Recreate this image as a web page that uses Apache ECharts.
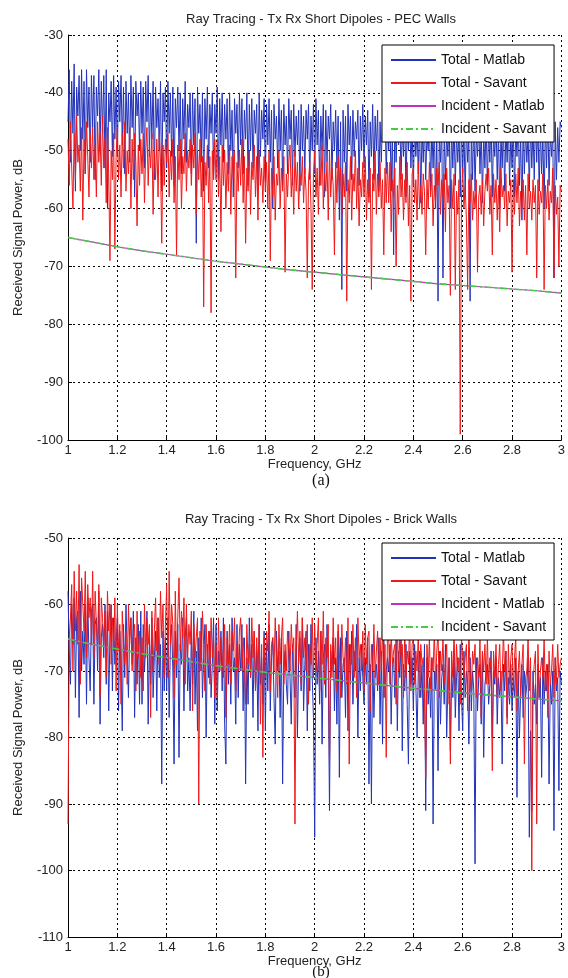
<!DOCTYPE html>
<html>
<head>
<meta charset="utf-8">
<title>Ray Tracing - Tx Rx Short Dipoles</title>
<script src="https://cdn.jsdelivr.net/npm/echarts/dist/echarts.min.js"></script>
<style>
  html, body { margin: 0; padding: 0; background: #fff; }
  #chart { width: 568px; height: 978px; }
</style>
</head>
<body>
<div id="chart"></div>
<script>
// frequency grid of the sampled traces (GHz)
const freqStart = 1
const freqStep = 0.005
const incStep = 0.1

const xTicks = [1, 1.2, 1.4, 1.6, 1.8, 2, 2.2, 2.4, 2.6, 2.8, 3]

// (a) PEC walls, dB -- one row per 0.1 GHz
const pecTotalMatlab = [
  -45, -36, -52, -38, -47, -35, -57, -39, -44, -37, -50, -36, -48, -38, -54, -36, -46, -39, -52, -37,
  -46, -37, -55, -39, -44, -36, -50, -38, -47, -37, -53, -36, -60, -40, -45, -38, -51, -37, -48, -39,
  -51, -38, -45, -37, -49, -39, -54, -38, -47, -40, -52, -37, -46, -39, -58, -38, -44, -40, -50, -38,
  -47, -39, -53, -38, -45, -37, -51, -40, -48, -38, -55, -39, -46, -41, -50, -38, -57, -40, -45, -39,
  -53, -38, -47, -40, -51, -39, -56, -41, -46, -39, -50, -40, -54, -41, -48, -38, -52, -42, -46, -40,
  -54, -40, -49, -41, -66, -39, -47, -42, -52, -40, -57, -41, -48, -39, -53, -42, -47, -40, -55, -42,
  -47, -39, -55, -41, -49, -40, -52, -42, -48, -41, -54, -40, -50, -43, -58, -41, -47, -42, -53, -40,
  -49, -41, -54, -43, -48, -40, -56, -42, -50, -41, -53, -43, -47, -42, -57, -40, -51, -43, -48, -41,
  -55, -42, -49, -41, -52, -43, -60, -42, -48, -44, -53, -41, -50, -43, -56, -42, -49, -44, -54, -41,
  -48, -43, -56, -42, -51, -44, -49, -43, -57, -42, -50, -44, -54, -43, -48, -42, -55, -44, -50, -42,
  -54, -41, -49, -43, -56, -44, -50, -42, -58, -43, -52, -44, -48, -42, -55, -45, -50, -43, -53, -44,
  -62, -45, -74, -43, -52, -44, -57, -42, -49, -44, -55, -43, -51, -45, -48, -43, -56, -44, -50, -42,
  -53, -44, -49, -43, -58, -45, -51, -42, -55, -44, -50, -43, -57, -45, -52, -44, -48, -43, -54, -45,
  -50, -44, -57, -46, -68, -43, -52, -45, -49, -44, -55, -46, -51, -43, -58, -45, -50, -44, -53, -46,
  -56, -45, -51, -46, -54, -44, -59, -46, -52, -45, -55, -47, -50, -44, -57, -46, -53, -45, -60, -46,
  -76, -47, -52, -45, -72, -46, -55, -47, -51, -44, -60, -46, -53, -45, -56, -47, -52, -46, -58, -45,
  -54, -46, -58, -45, -52, -47, -76, -46, -55, -44, -57, -47, -51, -45, -54, -46, -59, -47, -53, -45,
  -56, -46, -52, -44, -58, -47, -51, -45, -55, -46, -60, -47, -53, -45, -57, -46, -52, -44, -56, -47,
  -53, -45, -58, -46, -51, -44, -56, -47, -62, -45, -54, -46, -52, -47, -57, -45, -53, -46, -55, -44,
  -52, -45, -57, -46, -54, -47, -60, -45, -53, -44, -56, -47, -51, -46, -72, -45, -55, -46, -52, -45,
  -46
]
const pecTotalSavant = [
  -48, -56, -45, -53, -60, -47, -55, -44, -52, -49, -57, -46, -62, -48, -54, -45, -51, -58, -47, -53,
  -46, -55, -49, -58, -45, -52, -47, -56, -44, -53, -48, -59, -46, -54, -69, -50, -55, -47, -67, -51,
  -46, -55, -49, -58, -47, -53, -45, -57, -50, -54, -46, -60, -48, -55, -47, -52, -63, -49, -56, -48,
  -54, -47, -59, -50, -46, -56, -49, -53, -47, -61, -50, -55, -48, -58, -47, -52, -66, -49, -56, -48,
  -52, -47, -58, -50, -55, -48, -59, -51, -68, -49, -55, -48, -60, -51, -54, -47, -57, -50, -53, -48,
  -56, -49, -53, -47, -61, -50, -55, -48, -58, -51, -77, -52, -56, -49, -59, -51, -78, -50, -55, -48,
  -55, -48, -58, -51, -64, -49, -56, -50, -60, -52, -57, -49, -61, -51, -55, -50, -72, -52, -57, -50,
  -56, -48, -59, -51, -66, -53, -57, -50, -61, -52, -55, -49, -58, -51, -62, -50, -56, -53, -59, -51,
  -57, -52, -60, -50, -69, -53, -58, -51, -62, -54, -56, -50, -60, -53, -57, -51, -71, -54, -58, -52,
  -49, -58, -53, -61, -50, -57, -52, -60, -54, -56, -51, -59, -53, -57, -72, -55, -52, -60, -74, -54,
  -50, -58, -53, -61, -51, -56, -49, -60, -54, -57, -52, -62, -50, -58, -53, -56, -68, -52, -59, -51,
  -57, -53, -61, -54, -58, -52, -76, -55, -59, -51, -62, -54, -57, -50, -60, -53, -63, -55, -58, -52,
  -58, -51, -62, -55, -59, -53, -74, -54, -57, -50, -61, -54, -58, -52, -60, -55, -68, -53, -59, -52,
  -59, -52, -64, -55, -58, -53, -70, -56, -61, -51, -58, -54, -62, -55, -59, -52, -63, -56, -76, -54,
  -53, -59, -55, -62, -52, -60, -56, -61, -54, -57, -68, -55, -60, -52, -58, -54, -63, -56, -59, -53,
  -56, -52, -61, -55, -58, -54, -64, -53, -59, -56, -75, -55, -60, -54, -74, -57, -61, -55, -99, -58,
  -53, -60, -56, -62, -74, -55, -59, -54, -62, -57, -60, -55, -71, -58, -56, -61, -55, -63, -57, -54,
  -57, -53, -61, -56, -68, -54, -59, -55, -62, -56, -64, -53, -58, -56, -60, -54, -63, -57, -59, -55,
  -71, -55, -61, -54, -59, -53, -63, -57, -60, -55, -62, -56, -68, -54, -60, -57, -62, -55, -59, -56,
  -72, -55, -61, -57, -59, -54, -74, -56, -60, -55, -62, -57, -59, -53, -72, -56, -61, -58, -70, -56,
  -57
]
const pecIncMatlab = [-65.0, -65.8, -66.6, -67.3, -67.9, -68.5, -69.1, -69.6, -70.1, -70.6, -71.0,
  -71.4, -71.8, -72.2, -72.6, -73.0, -73.3, -73.6, -73.9, -74.2, -74.6]
const pecIncSavant = [-65.0, -65.8, -66.6, -67.3, -67.9, -68.5, -69.1, -69.6, -70.1, -70.6, -71.0,
  -71.4, -71.8, -72.2, -72.6, -73.0, -73.3, -73.6, -73.9, -74.2, -74.6]

// (b) brick walls, dB -- one row per 0.1 GHz
const brickTotalMatlab = [
  -58, -67, -72, -60, -66, -59, -74, -62, -61, -77, -58, -70, -64, -69, -60, -75, -59, -68, -73, -61,
  -60, -75, -63, -62, -70, -58, -78, -65, -63, -68, -60, -72, -61, -76, -64, -60, -73, -62, -69, -66,
  -62, -76, -64, -70, -79, -63, -71, -60, -67, -74, -64, -62, -69, -61, -77, -65, -72, -63, -75, -61,
  -75, -63, -70, -66, -61, -78, -65, -72, -62, -74, -68, -64, -76, -62, -71, -66, -87, -64, -73, -65,
  -73, -62, -77, -66, -63, -70, -84, -64, -71, -63, -83, -66, -69, -62, -76, -65, -62, -73, -68, -76,
  -64, -72, -61, -75, -67, -79, -65, -70, -62, -74, -68, -63, -80, -66, -71, -64, -74, -69, -62, -78,
  -63, -76, -67, -70, -64, -73, -62, -78, -84, -64, -72, -66, -75, -62, -70, -68, -78, -63, -74, -66,
  -70, -63, -76, -65, -87, -68, -75, -62, -71, -66, -77, -64, -73, -67, -79, -63, -72, -68, -75, -64,
  -79, -66, -73, -63, -76, -68, -65, -74, -81, -64, -70, -67, -77, -65, -87, -69, -67, -72, -75, -64,
  -64, -78, -66, -71, -74, -63, -80, -68, -65, -73, -62, -76, -69, -64, -79, -66, -73, -63, -71, -77,
  -95, -65, -72, -67, -75, -64, -81, -68, -66, -74, -63, -70, -91, -67, -70, -65, -76, -68, -78, -64,
  -86, -65, -74, -69, -68, -77, -64, -79, -66, -72, -64, -75, -67, -70, -63, -80, -68, -73, -66, -71,
  -75, -68, -72, -65, -87, -69, -90, -66, -77, -70, -69, -73, -65, -78, -67, -81, -65, -74, -70, -68,
  -70, -66, -78, -69, -68, -74, -65, -79, -67, -71, -65, -82, -69, -73, -66, -75, -84, -67, -72, -68,
  -76, -66, -72, -80, -70, -67, -74, -69, -78, -66, -91, -68, -75, -71, -77, -68, -93, -70, -73, -69,
  -85, -67, -78, -71, -69, -75, -66, -80, -72, -68, -82, -70, -74, -67, -77, -71, -68, -79, -66, -74,
  -79, -67, -74, -70, -72, -81, -68, -76, -70, -73, -99, -68, -76, -71, -69, -78, -67, -83, -72, -70,
  -69, -75, -72, -67, -80, -70, -72, -68, -78, -71, -74, -70, -84, -69, -73, -67, -77, -71, -75, -69,
  -76, -71, -74, -68, -89, -70, -80, -73, -69, -77, -70, -74, -72, -68, -95, -79, -91, -70, -75, -72,
  -78, -69, -74, -71, -86, -68, -75, -70, -73, -69, -87, -72, -75, -70, -94, -68, -73, -71, -88, -70,
  -72
]
const brickTotalSavant = [
  -93, -65, -62, -57, -70, -55, -64, -58, -66, -54, -72, -56, -60, -64, -55, -68, -57, -62, -59, -66,
  -55, -68, -58, -63, -66, -57, -74, -59, -62, -66, -61, -71, -58, -64, -60, -69, -62, -67, -59, -73,
  -60, -67, -63, -75, -61, -66, -69, -64, -72, -60, -66, -62, -70, -65, -63, -73, -61, -68, -64, -71,
  -65, -73, -60, -68, -62, -66, -63, -77, -61, -70, -64, -59, -67, -62, -69, -58, -65, -60, -71, -63,
  -57, -71, -55, -66, -60, -63, -74, -58, -69, -62, -56, -67, -61, -65, -59, -72, -60, -68, -63, -66,
  -61, -76, -63, -68, -65, -62, -90, -64, -70, -61, -66, -73, -63, -69, -64, -72, -62, -68, -65, -74,
  -66, -74, -62, -70, -65, -68, -71, -63, -77, -65, -69, -63, -72, -64, -67, -62, -73, -66, -70, -64,
  -62, -70, -65, -68, -75, -63, -69, -66, -71, -62, -68, -64, -73, -65, -70, -63, -78, -66, -83, -65,
  -71, -64, -67, -61, -73, -66, -65, -70, -62, -68, -74, -63, -69, -65, -62, -72, -66, -70, -64, -67,
  -70, -63, -67, -65, -93, -67, -61, -69, -64, -72, -62, -68, -65, -70, -63, -75, -66, -69, -62, -71,
  -63, -70, -66, -62, -73, -64, -69, -61, -72, -65, -68, -63, -84, -66, -71, -62, -69, -65, -73, -63,
  -67, -74, -63, -68, -70, -65, -72, -62, -84, -66, -69, -63, -71, -65, -74, -62, -68, -66, -70, -64,
  -73, -63, -69, -65, -64, -76, -66, -70, -63, -71, -67, -64, -72, -65, -70, -63, -74, -66, -83, -64,
  -65, -72, -64, -69, -67, -66, -75, -63, -70, -65, -68, -66, -74, -64, -71, -67, -69, -63, -73, -66,
  -65, -72, -67, -70, -64, -74, -66, -69, -68, -73, -86, -66, -71, -65, -73, -68, -70, -64, -72, -67,
  -64, -74, -67, -70, -65, -72, -69, -66, -75, -68, -84, -67, -71, -64, -73, -66, -70, -68, -75, -65,
  -65, -71, -68, -66, -76, -64, -70, -73, -67, -69, -66, -74, -68, -71, -65, -77, -67, -70, -66, -72,
  -65, -72, -68, -70, -85, -67, -71, -66, -74, -69, -66, -73, -71, -64, -70, -67, -78, -66, -72, -68,
  -66, -73, -68, -65, -76, -70, -67, -74, -69, -66, -84, -71, -70, -65, -73, -68, -100, -72, -69, -67,
  -93, -66, -74, -70, -68, -71, -65, -73, -69, -77, -67, -72, -70, -66, -74, -68, -72, -66, -71, -69,
  -68
]
const brickIncMatlab = [-65.2, -66.0, -66.7, -67.4, -68.0, -68.6, -69.2, -69.7, -70.2, -70.6, -71.0,
  -71.4, -71.8, -72.2, -72.6, -72.9, -73.3, -73.6, -73.9, -74.2, -74.5]
const brickIncSavant = [-65.2, -66.0, -66.7, -67.4, -68.0, -68.6, -69.2, -69.7, -70.2, -70.6, -71.0,
  -71.4, -71.8, -72.2, -72.6, -72.9, -73.3, -73.6, -73.9, -74.2, -74.5]

const legendNames = ['Total - Matlab', 'Total - Savant', 'Incident - Matlab', 'Incident - Savant']
const colors = ['#2233bb', '#f01818', '#c033c0', '#44cc44']

// pair values with their frequency
const toPoints = (values, step) =>
  values.map((v, i) => [+(freqStart + i * step).toFixed(3), v])

const textColor = '#222'
const fontFamily = 'Liberation Sans, Arial, sans-serif'

const makeXAxis = (gridIndex, nameGap) => ({
  type: 'value',
  gridIndex,
  min: xTicks[0],
  max: xTicks[xTicks.length - 1],
  interval: 0.2,
  name: 'Frequency, GHz',
  nameLocation: 'middle',
  nameGap,
  nameTextStyle: { fontSize: 13, color: textColor, fontFamily },
  axisLine: { show: true, onZero: false, lineStyle: { color: '#000', width: 1 } },
  axisTick: { show: true, inside: true, length: 4, lineStyle: { color: '#000' } },
  axisLabel: { fontSize: 13, color: textColor, fontFamily, margin: 4 },
  splitLine: { show: true, lineStyle: { color: '#000', width: 1, type: [2, 3] } },
})

const makeYAxis = (gridIndex, min, max) => ({
  type: 'value',
  gridIndex,
  min,
  max,
  interval: 10,
  name: 'Received Signal Power, dB',
  nameLocation: 'middle',
  nameGap: 43,
  nameTextStyle: { fontSize: 13, color: textColor, fontFamily },
  axisLine: { show: true, onZero: false, lineStyle: { color: '#000', width: 1 } },
  axisTick: { show: true, inside: true, length: 4, lineStyle: { color: '#000' } },
  axisLabel: { fontSize: 13, color: textColor, fontFamily, margin: 5 },
  splitLine: { show: true, lineStyle: { color: '#000', width: 1, type: [2, 3] } },
})

// legend box: line sample only, no marker
const makeLegend = (top) => ({
  data: legendNames,
  orient: 'vertical',
  left: 382,
  top,
  padding: [8, 8, 6, 8],
  itemWidth: 45,
  itemHeight: 14,
  itemGap: 9,
  itemStyle: { opacity: 0, borderWidth: 0 },
  backgroundColor: '#fff',
  borderColor: '#000',
  borderWidth: 1,
  borderRadius: 0,
  textStyle: { fontSize: 14, color: '#111', fontFamily },
})

const lineSeries = (name, data, idx, color, extra) => ({
  name,
  type: 'line',
  xAxisIndex: idx,
  yAxisIndex: idx,
  data,
  symbol: 'none',
  showSymbol: false,
  lineStyle: Object.assign({ color, width: 1 }, extra || {}),
  itemStyle: { color },
  emphasis: { disabled: true },
})

const makeSeries = (idx, totM, totS, incM, incS) => [
  lineSeries(legendNames[0], toPoints(totM, freqStep), idx, colors[0]),
  lineSeries(legendNames[1], toPoints(totS, freqStep), idx, colors[1]),
  lineSeries(legendNames[2], toPoints(incM, incStep), idx, colors[2], { width: 1.2 }),
  lineSeries(legendNames[3], toPoints(incS, incStep), idx, colors[3], { width: 1.6, type: [7, 3, 2, 3] }),
]

const chart = echarts.init(document.getElementById('chart'), null, { renderer: 'canvas' })

const option = {
  animation: false,
  backgroundColor: '#fff',
  title: [
    { text: 'Ray Tracing - Tx Rx Short Dipoles - PEC Walls', left: 316, top: 8, textAlign: 'center',
      textStyle: { fontSize: 13, fontWeight: 'normal', color: textColor, fontFamily } },
    { text: 'Ray Tracing - Tx Rx Short Dipoles - Brick Walls', left: 316, top: 508, textAlign: 'center',
      textStyle: { fontSize: 13, fontWeight: 'normal', color: textColor, fontFamily } },
    { text: '(a)', left: 316, top: 468, textAlign: 'center',
      textStyle: { fontSize: 16, fontWeight: 'normal', color: '#111', fontFamily: 'Liberation Serif, serif' } },
    { text: '(b)', left: 316, top: 960, textAlign: 'center',
      textStyle: { fontSize: 15, fontWeight: 'normal', color: '#111', fontFamily: 'Liberation Serif, serif' } },
  ],
  legend: [makeLegend(45), makeLegend(543)],
  grid: [
    { left: 68, top: 35, width: 496, height: 405 },
    { left: 68, top: 538, width: 496, height: 399 },
  ],
  xAxis: [makeXAxis(0, 17), makeXAxis(1, 14)],
  yAxis: [makeYAxis(0, -100, -30), makeYAxis(1, -110, -50)],
  series: [
    ...makeSeries(0, pecTotalMatlab, pecTotalSavant, pecIncMatlab, pecIncSavant),
    ...makeSeries(1, brickTotalMatlab, brickTotalSavant, brickIncMatlab, brickIncSavant),
  ],
}

chart.setOption(option)
</script>
</body>
</html>
